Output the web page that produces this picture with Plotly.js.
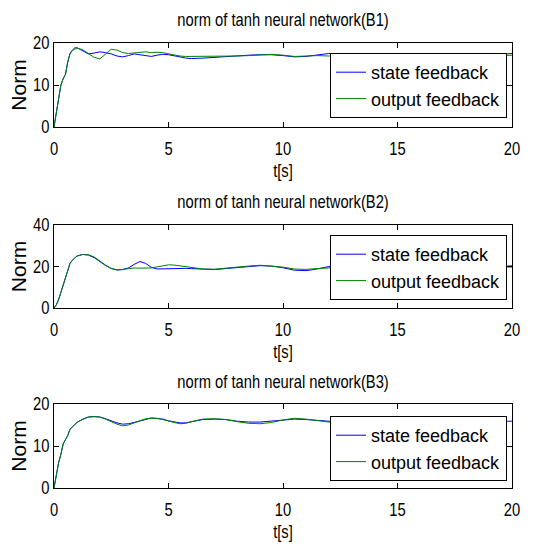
<!DOCTYPE html>
<html>
<head>
<meta charset="utf-8">
<script src="https://cdn.plot.ly/plotly-3.0.1.min.js"></script>
<style>html,body{margin:0;padding:0;background:#fff;}#chart{width:533px;height:550px;}</style>
</head>
<body>
<div id="chart"></div>
<script>
// time axis [s]
const t = [0,0.1,0.2,0.3,0.4,0.5,0.6,0.7,0.8,0.9,1.0,
  1.25,1.5,1.75,2.0,2.25,2.5,2.75,3.0,3.25,3.5,3.75,4.0,4.25,4.5,4.75,5.0,5.25,5.5,5.75,6.0,
  6.5,7,7.5,8,8.5,9,9.5,10,10.5,11,11.5,12,12.5,13,13.5,14,14.5,15,15.5,16,16.5,17,17.5,18,18.5,19,19.5,20];

// B1
const b1State = [0,3.5,7.5,10,11.5,12.5,15.5,17.5,18.3,18.8,18.9,
  18.2,17.4,17.6,17.9,17.7,17.4,16.9,16.7,17.0,17.4,17.2,17.0,16.8,17.1,17.3,17.2,17.0,16.7,16.4,16.3,
  16.4,16.6,16.8,17.0,17.1,17.2,17.2,17.0,16.7,16.8,17.1,17.5,17.2,17.3,17.2,17.0,17.1,17.3,17.2,17.1,17.3,17.2,17.4,17.5,17.3,17.2,17.3,17.5];
const b1Output = [0,3.5,7.5,10,11.5,12.5,15.5,17.4,18.2,18.6,18.8,
  18.4,17.6,16.6,16.2,17.4,18.5,18.3,17.7,17.5,17.6,17.8,17.9,17.7,17.8,17.7,17.4,17.1,16.9,16.8,16.8,
  16.9,16.8,16.9,16.9,17.0,17.2,17.3,17.1,16.8,16.9,17.0,16.9,17.0,16.9,17.0,17.1,17.0,16.9,17.0,17.1,17.0,16.9,17.0,17.1,17.0,16.9,17.0,17.1];

// B2
const b2State = [0,1.5,4,7.5,11.5,15,18.5,21.5,23,24,25,
  25.8,25.5,24.3,22.3,20.5,19.0,18.3,18.5,19.3,21.0,22.4,21.5,19.6,18.8,18.9,19.1,19.2,19.2,19.1,19.0,
  18.6,18.5,19.0,19.4,20.0,20.4,20.2,19.4,18.2,18.0,18.8,20.0,19.8,19.5,19.7,20.0,20.1,19.9,19.8,20.0,20.2,20.1,19.9,20.0,20.2,20.1,20.0,20.3];
const b2Output = [0,1.5,4,7.5,11.5,15,18.5,21.5,23,24,25,
  25.8,25.7,24.6,22.6,20.7,19.1,18.4,18.6,19.0,19.3,19.2,19.1,19.3,19.8,20.4,20.8,20.7,20.3,19.8,19.4,
  18.8,18.7,19.3,19.6,20.2,20.6,20.3,19.7,18.8,18.6,19.0,19.4,19.6,19.8,19.7,19.6,19.8,19.9,19.7,19.6,19.8,19.9,19.8,19.7,19.8,19.9,19.8,19.7];

// B3
const b3State = [0,3.5,6.0,8.0,10.5,11.5,12.5,14.0,14.6,15.1,15.6,
  16.4,16.9,17.0,16.9,16.5,16.0,15.5,15.2,15.3,15.6,15.9,16.3,16.7,16.6,16.4,16.0,15.7,15.5,15.5,15.8,
  16.3,16.4,16.3,15.9,15.7,15.7,15.9,16.2,16.4,16.3,16.1,15.8,15.7,15.8,15.9,16.0,15.9,15.8,15.9,16.0,15.9,15.8,15.9,16.0,15.9,15.8,15.9,15.9];
const b3Output = [0,3.5,6.0,8.0,10.5,11.5,12.5,14.0,14.6,15.1,15.6,
  16.3,16.9,17.0,16.9,16.4,15.8,15.2,14.8,15.0,15.5,16.0,16.5,16.6,16.6,16.3,15.9,15.6,15.3,15.4,15.8,
  16.4,16.5,16.3,15.8,15.4,15.3,15.6,16.2,16.6,16.4,16.0,15.7,15.6,15.7,15.8,15.9,15.8,15.7,15.8,15.9,15.8,15.7,15.8,15.8];

const titles = ['norm of tanh neural network(B1)','norm of tanh neural network(B2)','norm of tanh neural network(B3)'];
const seriesNames = ['state feedback','output feedback'];
const yTicks = [[0,10,20],[0,20,40],[0,10,20]];
const yRanges = [[0,20],[0,40],[0,20]];
const xTicks = [0,5,10,15,20];

const BLUE = '#0000ff', GREEN = '#008000';
const SANS = '"Liberation Sans", Arial, Helvetica, sans-serif';

const H = 550;
const plotPx = [[43,127],[225,308],[404,488]];
const legendTopPx = [53,235,416];
const titlePx = [20,202,382];

const stateData = [b1State,b2State,b3State];
const outputData = [b1Output,b2Output,b3Output];

const data = [];
const layout = {
  width:533, height:550,
  margin:{l:54,r:21,t:0,b:0},
  paper_bgcolor:'#fff', plot_bgcolor:'#fff',
  font:{family:SANS, size:18, color:'#000'},
  showlegend:true,
  annotations:[]
};

for (let i=0;i<3;i++){
  const sfx = i===0 ? '' : String(i+1);
  const lg = i===0 ? 'legend' : 'legend'+(i+1);
  data.push({x:t, y:stateData[i], type:'scatter', mode:'lines', name:seriesNames[0],
    line:{color:BLUE,width:1}, xaxis:'x'+sfx, yaxis:'y'+sfx, legend:lg});
  data.push({x:t, y:outputData[i], type:'scatter', mode:'lines', name:seriesNames[1],
    line:{color:GREEN,width:1}, xaxis:'x'+sfx, yaxis:'y'+sfx, legend:lg});
  const d0 = 1 - plotPx[i][1]/H, d1 = 1 - plotPx[i][0]/H;
  layout['xaxis'+sfx] = {
    domain:[0,1], anchor:'y'+sfx, range:[0,20], tickvals:xTicks, ticks:'inside', ticklen:5,
    tickcolor:'#000', showline:true, linecolor:'#000', linewidth:1, mirror:'allticks',
    showgrid:false, zeroline:false, tickfont:{family:SANS,size:18}, ticklabelstandoff:5,
    title:{text:'t[s]', font:{family:SANS,size:18}, standoff:6}
  };
  layout['yaxis'+sfx] = {
    domain:[d0,d1], anchor:'x'+sfx, range:yRanges[i], tickvals:yTicks[i], ticks:'inside', ticklen:5,
    tickcolor:'#000', showline:true, linecolor:'#000', linewidth:1, mirror:'allticks',
    showgrid:false, zeroline:false, tickfont:{family:SANS,size:18},
    title:{text:'Norm', font:{family:SANS,size:21}, standoff:0}
  };
  layout[lg] = {
    x:(507-54)/458, xanchor:'right', y:1-legendTopPx[i]/H, yanchor:'top',
    bgcolor:'#fff', bordercolor:'#000', borderwidth:1,
    font:{family:SANS,size:18}
  };
  layout.annotations.push({text:titles[i], xref:'paper', yref:'paper', x:0.5, y:1-titlePx[i]/H,
    xanchor:'center', yanchor:'middle', showarrow:false, font:{family:SANS,size:18}});
}

const gdEl = document.getElementById('chart');

function hasClass(el, re){
  const c = el.getAttribute('class') || '';
  return c.split(/\s+/).some(function(k){ return re.test(k); });
}

// cosmetic post-processing (idempotent): narrow text look for titles and tick labels
function restyleText(){
  gdEl.querySelectorAll('svg text').forEach(function(el){
    if (hasClass(el, /^legend\d*text$/)) return;
    const cur = el.getAttribute('transform') || '';
    if (el.__applied === cur) return;
    let nt;
    if (hasClass(el, /^y\d*title$/)) {
      nt = 'translate(3,0) ' + cur;
    } else {
      const x = parseFloat(el.getAttribute('x')||'0');
      const y = parseFloat(el.getAttribute('y')||'0');
      nt = (cur ? cur + ' ' : '') +
        'translate(' + x + ',' + y + ') scale(0.82,1) translate(' + (-x) + ',' + (-y) + ')';
    }
    el.setAttribute('transform', nt);
    el.__applied = nt;
  });
}

Plotly.newPlot(gdEl, data, layout, {displayModeBar:false, staticPlot:true}).then(function(gd){
  gd.on('plotly_afterplot', restyleText);
  restyleText();
  requestAnimationFrame(restyleText);
  setTimeout(restyleText, 50);
  setTimeout(restyleText, 300);
});
</script>
</body>
</html>
